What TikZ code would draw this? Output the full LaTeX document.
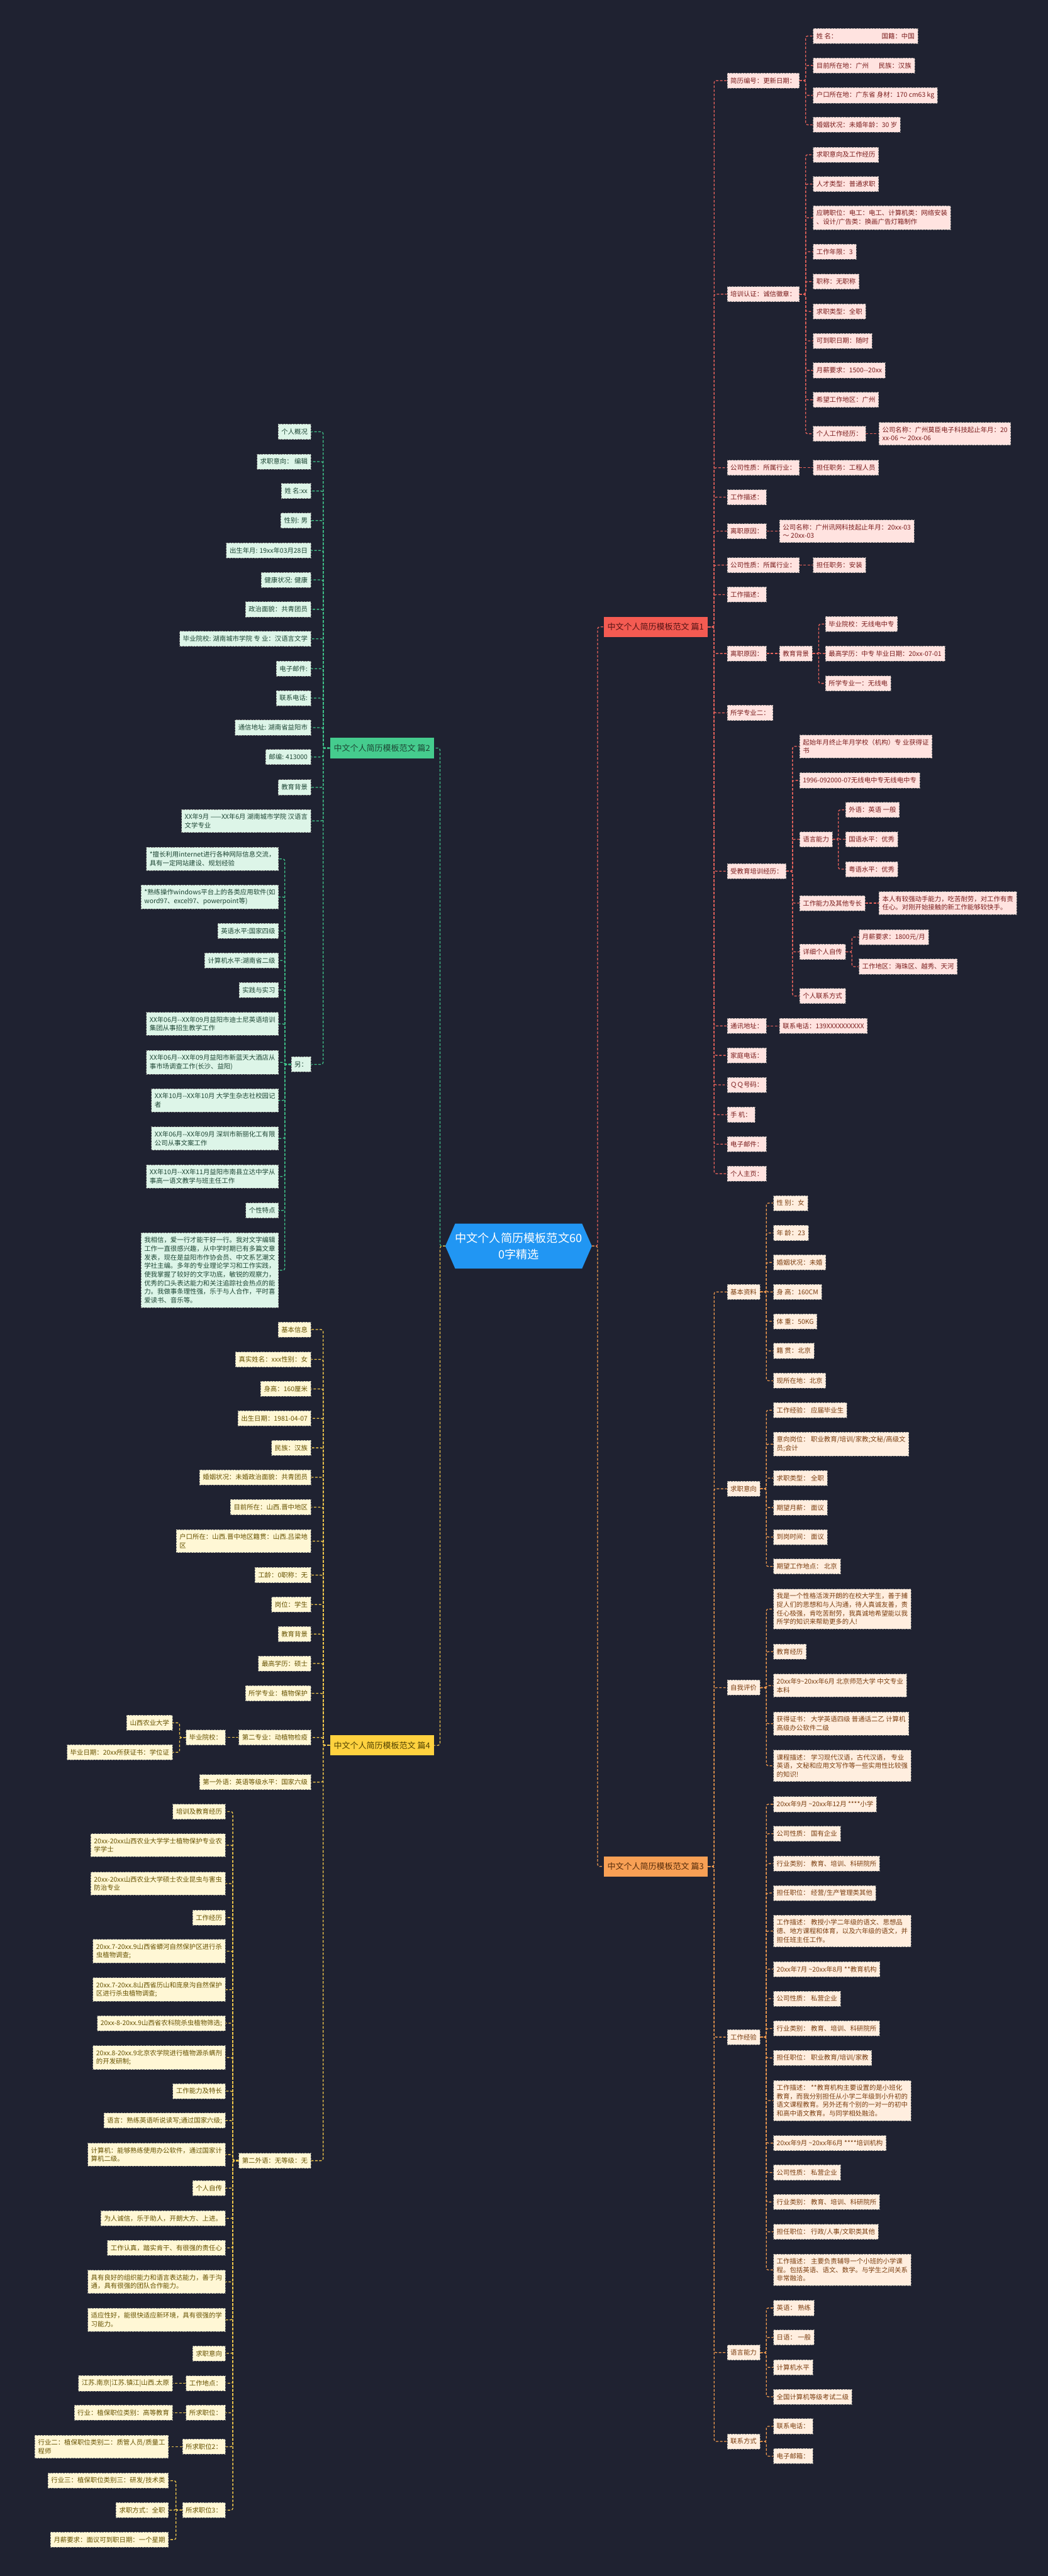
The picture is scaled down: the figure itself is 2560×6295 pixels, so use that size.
\documentclass[tikz,border=0pt]{standalone}
\usepackage{fontspec}
\setmainfont{Noto Sans CJK SC}
\definecolor{bg}{HTML}{1F2231}
\definecolor{cBlue}{HTML}{2196F3}
\definecolor{oneF}{HTML}{FFE3E0}\definecolor{oneT}{HTML}{7A1C1C}\definecolor{oneL}{HTML}{E8635C}\definecolor{oneM}{HTML}{F45B52}
\definecolor{thrF}{HTML}{FFEEDF}\definecolor{thrT}{HTML}{7A3D0E}\definecolor{thrL}{HTML}{F09A4E}\definecolor{thrM}{HTML}{F8A055}
\definecolor{twoF}{HTML}{DDF5E8}\definecolor{twoT}{HTML}{1D4634}\definecolor{twoL}{HTML}{3FC48A}\definecolor{twoM}{HTML}{45CC8E}
\definecolor{fouF}{HTML}{FFF7D5}\definecolor{fouT}{HTML}{665200}\definecolor{fouL}{HTML}{F2C94C}\definecolor{fouM}{HTML}{FFD23F}
\newcommand\dd{-\kern0pt-}
\newcommand\tl{\textasciitilde}
\begin{document}
\begin{tikzpicture}[x=0.25pt,y=-0.25pt,
 leaf/.style={rectangle,draw=black!50,dash pattern=on 1pt off 0.7pt,line width=0.3pt,inner xsep=2pt,inner ysep=2.55pt,minimum height=9.25pt,align=left,font=\fontsize{4pt}{5.25pt}\selectfont},
 R1/.style={leaf,fill=oneF,text=oneT,anchor=west},
 R3/.style={leaf,fill=thrF,text=thrT,anchor=west},
 L2/.style={leaf,fill=twoF,text=twoT,anchor=east},
 L4/.style={leaf,fill=fouF,text=fouT,anchor=east},
 mainn/.style={rectangle,inner xsep=2.3pt,minimum height=12.5pt,font=\fontsize{5pt}{6pt}\selectfont},
 con/.style={dash pattern=on 1.5pt off 1pt,line width=0.5pt,rounded corners=1.2pt},
 c1/.style={con,draw=oneL}, c2/.style={con,draw=twoL}, c3/.style={con,draw=thrL}, c4/.style={con,draw=fouL}]
\fill[bg] (0,0) rectangle (2560,6295);
\useasboundingbox (0,0) rectangle (2560,6295);

% ---------- center ----------
\fill[cBlue] (1088,3045) -- (1112,2990) -- (1422,2990) -- (1446,3045) -- (1422,3100) -- (1112,3100) -- cycle;
\node[text=white,align=center,font=\fontsize{7pt}{10pt}\selectfont] (ctr) at (1267,3045) {中文个人简历模板范文60\\0字精选};
\coordinate (ctrL) at (1088,3045);
\coordinate (ctrR) at (1446,3045);

% ---------- main branch nodes ----------
\node[mainn,fill=oneM,text=oneT!70!black,anchor=west] (p1) at (1474,1532) {中文个人简历模板范文 篇1};
\node[mainn,fill=thrM,text=thrT!70!black,anchor=west] (p3) at (1474,4561) {中文个人简历模板范文 篇3};
\node[mainn,fill=twoM,text=twoT,anchor=east] (p2) at (1061,1828) {中文个人简历模板范文 篇2};
\node[mainn,fill=fouM,text=fouT!80!black,anchor=east] (p4) at (1061,4265) {中文个人简历模板范文 篇4};

\draw[c1] (ctrR) -- ++(14,0) |- (p1.west);
\draw[c3] (ctrR) -- ++(14,0) |- (p3.west);
\draw[c2] (ctrL) -- ++(-13,0) |- (p2.east);
\draw[c4] (ctrL) -- ++(-13,0) |- (p4.east);

% ================= 篇1 =================
\node[R1] (a1) at (1776,197) {简历编号：更新日期：};
\node[R1] (a2) at (1776,719) {培训认证：诚信徽章：};
\node[R1] (a3) at (1776,1143) {公司性质：所属行业：};
\node[R1] (a4) at (1776,1215) {工作描述：};
\node[R1] (a5) at (1776,1298) {离职原因：};
\node[R1] (a6) at (1776,1381) {公司性质：所属行业：};
\node[R1] (a7) at (1776,1453) {工作描述：};
\node[R1] (a8) at (1776,1597) {离职原因：};
\node[R1] (a9) at (1776,1742) {所学专业二：};
\node[R1] (a10) at (1776,2129) {受教育培训经历：};
\node[R1] (a11) at (1776,2507) {通讯地址：};
\node[R1] (a12) at (1776,2579) {家庭电话：};
\node[R1] (a13) at (1776,2651) {ＱＱ号码：};
\node[R1] (a14) at (1776,2724) {手 机：};
\node[R1] (a15) at (1776,2796) {电子邮件：};
\node[R1] (a16) at (1776,2868) {个人主页：};
\foreach \c in {a1,a2,a3,a4,a5,a6,a7,a8,a9,a10,a11,a12,a13,a14,a15,a16}
  \draw[c1] (p1.east) -- ++(15,0) |- (\c.west);

\node[R1] (a1x1) at (1986,88) {姓 名：\hspace{27pt}国籍：中国};
\node[R1] (a1x2) at (1986,160) {目前所在地：广州\hspace{6pt}民族：汉族};
\node[R1] (a1x3) at (1986,233) {户口所在地：广东省 身材：170 cm63 kg};
\node[R1] (a1x4) at (1986,305) {婚姻状况：未婚年龄：30 岁};
\foreach \c in {a1x1,a1x2,a1x3,a1x4} \draw[c1] (a1.east) -- ++(15,0) |- (\c.west);

\node[R1] (a2x1) at (1986,378) {求职意向及工作经历};
\node[R1] (a2x2) at (1986,450) {人才类型：普通求职};
\node[R1] (a2x3) at (1986,532) {应聘职位：电工：电工、计算机类：网络安装\\、设计/广告类：换画广告灯箱制作};
\node[R1] (a2x4) at (1986,615) {工作年限：3};
\node[R1] (a2x5) at (1986,688) {职称：无职称};
\node[R1] (a2x6) at (1986,761) {求职类型：全职};
\node[R1] (a2x7) at (1986,833) {可到职日期：随时};
\node[R1] (a2x8) at (1986,905) {月薪要求：1500\dd20xx};
\node[R1] (a2x9) at (1986,977) {希望工作地区：广州};
\node[R1] (a2x10) at (1986,1060) {个人工作经历：};
\foreach \c in {a2x1,a2x2,a2x3,a2x4,a2x5,a2x6,a2x7,a2x8,a2x9,a2x10} \draw[c1] (a2.east) -- ++(15,0) |- (\c.west);
\node[R1] (a2y) at (2147,1060) {公司名称：广州莫臣电子科技起止年月：20\\xx-06 ～ 20xx-06};
\draw[c1] (a2x10.east) -- (a2y.west);

\node[R1] (a3x) at (1986,1143) {担任职务：工程人员};
\draw[c1] (a3.east) -- (a3x.west);
\node[R1] (a5x) at (1904,1298) {公司名称：广州讯网科技起止年月：20xx-03\\ ～ 20xx-03};
\draw[c1] (a5.east) -- (a5x.west);
\node[R1] (a6x) at (1986,1381) {担任职务：安装};
\draw[c1] (a6.east) -- (a6x.west);
\node[R1] (a8x) at (1904,1597) {教育背景};
\draw[c1] (a8.east) -- (a8x.west);
\node[R1] (a8y1) at (2016,1525) {毕业院校：无线电中专};
\node[R1] (a8y2) at (2016,1597) {最高学历：中专 毕业日期：20xx-07-01};
\node[R1] (a8y3) at (2016,1670) {所学专业一：无线电};
\foreach \c in {a8y1,a8y2,a8y3} \draw[c1] (a8x.east) -- ++(15,0) |- (\c.west);

\node[R1] (a10x1) at (1953,1824) {起始年月终止年月学校（机构）专 业获得证\\书};
\node[R1] (a10x2) at (1953,1907) {1996-092000-07无线电中专无线电中专};
\node[R1] (a10x3) at (1953,2051) {语言能力};
\node[R1] (a10x4) at (1953,2207) {工作能力及其他专长};
\node[R1] (a10x5) at (1953,2326) {详细个人自传};
\node[R1] (a10x6) at (1953,2434) {个人联系方式};
\foreach \c in {a10x1,a10x2,a10x3,a10x4,a10x5,a10x6} \draw[c1] (a10.east) -- ++(15,0) |- (\c.west);
\node[R1] (a10y1) at (2065,1979) {外语：英语 一般};
\node[R1] (a10y2) at (2065,2051) {国语水平：优秀};
\node[R1] (a10y3) at (2065,2124) {粤语水平：优秀};
\foreach \c in {a10y1,a10y2,a10y3} \draw[c1] (a10x3.east) -- ++(14,0) |- (\c.west);
\node[R1] (a10z) at (2147,2207) {本人有较强动手能力，吃苦耐劳，对工作有责\\任心。对刚开始接触的新工作能够较快手。};
\draw[c1] (a10x4.east) -- (a10z.west);
\node[R1] (a10w1) at (2098,2290) {月薪要求：1800元/月};
\node[R1] (a10w2) at (2098,2362) {工作地区：海珠区、越秀、天河};
\foreach \c in {a10w1,a10w2} \draw[c1] (a10x5.east) -- ++(15,0) |- (\c.west);
\node[R1] (a11x) at (1904,2507) {联系电话：139XXXXXXXXXX};
\draw[c1] (a11.east) -- (a11x.west);

% ================= 篇3 =================
\node[R3] (b1) at (1776,3157) {基本资料};
\node[R3] (b2) at (1776,3638) {求职意向};
\node[R3] (b3) at (1776,4124) {自我评价};
\node[R3] (b4) at (1776,4978) {工作经验};
\node[R3] (b5) at (1776,5749) {语言能力};
\node[R3] (b6) at (1776,5966) {联系方式};
\foreach \c in {b1,b2,b3,b4,b5,b6} \draw[c3] (p3.east) -- ++(15,0) |- (\c.west);

\node[R3] (b1x1) at (1889,2940) {性 别：女};
\node[R3] (b1x2) at (1889,3013) {年 龄：23};
\node[R3] (b1x3) at (1889,3085) {婚姻状况：未婚};
\node[R3] (b1x4) at (1889,3157) {身 高：160CM};
\node[R3] (b1x5) at (1889,3229) {体 重：50KG};
\node[R3] (b1x6) at (1889,3301) {籍 贯：北京};
\node[R3] (b1x7) at (1889,3374) {现所在地：北京};
\foreach \c in {b1x1,b1x2,b1x3,b1x4,b1x5,b1x6,b1x7} \draw[c3] (b1.east) -- ++(15,0) |- (\c.west);

\node[R3] (b2x1) at (1889,3446) {工作经验： 应届毕业生};
\node[R3] (b2x2) at (1889,3529) {意向岗位： 职业教育/培训/家教;文秘/高级文\\员;会计};
\node[R3] (b2x3) at (1889,3612) {求职类型： 全职};
\node[R3] (b2x4) at (1889,3684) {期望月薪： 面议};
\node[R3] (b2x5) at (1889,3756) {到岗时间： 面议};
\node[R3] (b2x6) at (1889,3828) {期望工作地点： 北京};
\foreach \c in {b2x1,b2x2,b2x3,b2x4,b2x5,b2x6} \draw[c3] (b2.east) -- ++(15,0) |- (\c.west);

\node[R3] (b3x1) at (1889,3932) {我是一个性格活泼开朗的在校大学生，善于捕\\捉人们的思想和与人沟通，待人真诚友善，责\\任心极强，肯吃苦耐劳，我真诚地希望能以我\\所学的知识来帮助更多的人!};
\node[R3] (b3x2) at (1889,4036) {教育经历};
\node[R3] (b3x3) at (1889,4119) {20xx年9\tl20xx年6月 北京师范大学 中文专业\\ 本科};
\node[R3] (b3x4) at (1889,4212) {获得证书： 大学英语四级 普通话二乙 计算机\\高级办公软件二级};
\node[R3] (b3x5) at (1889,4315) {课程描述： 学习现代汉语，古代汉语， 专业\\英语，文秘和应用文写作等一些实用性比较强\\的知识!};
\foreach \c in {b3x1,b3x2,b3x3,b3x4,b3x5} \draw[c3] (b3.east) -- ++(15,0) |- (\c.west);

\node[R3] (b4x1) at (1889,4409) {20xx年9月 \tl20xx年12月 ****小学};
\node[R3] (b4x2) at (1889,4481) {公司性质： 国有企业};
\node[R3] (b4x3) at (1889,4554) {行业类别： 教育、培训、科研院所};
\node[R3] (b4x4) at (1889,4626) {担任职位： 经营/生产管理类其他};
\node[R3] (b4x5) at (1889,4719) {工作描述： 教授小学二年级的语文、思想品\\德、地方课程和体育，以及六年级的语文，并\\担任班主任工作。};
\node[R3] (b4x6) at (1889,4812) {20xx年7月 \tl20xx年8月 **教育机构};
\node[R3] (b4x7) at (1889,4884) {公司性质： 私营企业};
\node[R3] (b4x8) at (1889,4957) {行业类别： 教育、培训、科研院所};
\node[R3] (b4x9) at (1889,5029) {担任职位： 职业教育/培训/家教};
\node[R3] (b4x10) at (1889,5133) {工作描述： **教育机构主要设置的是小班化\\教育，而我分别担任从小学二年级到小升初的\\语文课程教育。另外还有个别的一对一的初中\\和高中语文教育。与同学相处融洽。};
\node[R3] (b4x11) at (1889,5237) {20xx年9月 \tl20xx年6月 ****培训机构};
\node[R3] (b4x12) at (1889,5309) {公司性质： 私营企业};
\node[R3] (b4x13) at (1889,5381) {行业类别： 教育、培训、科研院所};
\node[R3] (b4x14) at (1889,5454) {担任职位： 行政/人事/文职类其他};
\node[R3] (b4x15) at (1889,5547) {工作描述： 主要负责辅导一个小班的小学课\\程。包括英语、语文、数学。与学生之间关系\\非常融洽。};
\foreach \c in {b4x1,b4x2,b4x3,b4x4,b4x5,b4x6,b4x7,b4x8,b4x9,b4x10,b4x11,b4x12,b4x13,b4x14,b4x15} \draw[c3] (b4.east) -- ++(15,0) |- (\c.west);

\node[R3] (b5x1) at (1889,5640) {英语： 熟练};
\node[R3] (b5x2) at (1889,5712) {日语： 一般};
\node[R3] (b5x3) at (1889,5785) {计算机水平};
\node[R3] (b5x4) at (1889,5857) {全国计算机等级考试二级};
\foreach \c in {b5x1,b5x2,b5x3,b5x4} \draw[c3] (b5.east) -- ++(15,0) |- (\c.west);
\node[R3] (b6x1) at (1889,5929) {联系电话：};
\node[R3] (b6x2) at (1889,6002) {电子邮箱：};
\foreach \c in {b6x1,b6x2} \draw[c3] (b6.east) -- ++(15,0) |- (\c.west);

% ================= 篇2 =================
\node[L2] (c1) at (760,1055) {个人概况};
\node[L2] (c2) at (760,1128) {求职意向： 编辑};
\node[L2] (c3) at (760,1200) {姓 名:xx};
\node[L2] (c4) at (760,1272) {性别: 男};
\node[L2] (c5) at (760,1345) {出生年月: 19xx年03月28日};
\node[L2] (c6) at (760,1417) {健康状况: 健康};
\node[L2] (c7) at (760,1489) {政治面貌：共青团员};
\node[L2] (c8) at (760,1561) {毕业院校: 湖南城市学院 专 业：汉语言文学};
\node[L2] (c9) at (760,1634) {电子邮件:};
\node[L2] (c10) at (760,1706) {联系电话:};
\node[L2] (c11) at (760,1778) {通信地址: 湖南省益阳市};
\node[L2] (c12) at (760,1850) {邮编: 413000};
\node[L2] (c13) at (760,1924) {教育背景};
\node[L2] (c14) at (760,2006) {XX年9月 ——XX年6月 湖南城市学院 汉语言\\文学专业};
\node[L2] (c15) at (760,2601) {另：};
\foreach \c in {c1,c2,c3,c4,c5,c6,c7,c8,c9,c10,c11,c12,c13,c14,c15} \draw[c2] (p2.west) -- ++(-16,0) |- (\c.east);

\node[L2] (c15x1) at (681,2099) {*擅长利用internet进行各种网际信息交流，\\具有一定网站建设、规划经验};
\node[L2] (c15x2) at (681,2192) {*熟练操作windows平台上的各类应用软件(如\\word97、excel97、powerpoint等)};
\node[L2] (c15x3) at (681,2275) {英语水平:国家四级};
\node[L2] (c15x4) at (681,2347) {计算机水平:湖南省二级};
\node[L2] (c15x5) at (681,2419) {实践与实习};
\node[L2] (c15x6) at (681,2502) {XX年06月\dd XX年09月益阳市迪士尼英语培训\\集团从事招生教学工作};
\node[L2] (c15x7) at (681,2596) {XX年06月\dd XX年09月益阳市新蓝天大酒店从\\事市场调查工作(长沙、益阳)};
\node[L2] (c15x8) at (681,2689) {XX年10月\dd XX年10月 大学生杂志社校园记\\者};
\node[L2] (c15x9) at (681,2782) {XX年06月\dd XX年09月 深圳市新丽化工有限\\公司从事文案工作};
\node[L2] (c15x10) at (681,2875) {XX年10月\dd XX年11月益阳市南县立达中学从\\事高一语文教学与班主任工作};
\node[L2] (c15x11) at (681,2958) {个性特点};
\node[L2] (c15x12) at (681,3104) {我相信，爱一行才能干好一行。我对文字编辑\\工作一直很感兴趣，从中学时期已有多篇文章\\发表，现在是益阳市作协会员、中文系艺潮文\\学社主编。多年的专业理论学习和工作实践，\\使我掌握了较好的文字功底，敏锐的观察力，\\优秀的口头表达能力和关注追踪社会热点的能\\力。我做事条理性强，乐于与人合作，平时喜\\爱读书、音乐等。};
\foreach \c in {c15x1,c15x2,c15x3,c15x4,c15x5,c15x6,c15x7,c15x8,c15x9,c15x10,c15x11,c15x12} \draw[c2] (c15.west) -- ++(-15,0) |- (\c.east);

% ================= 篇4 =================
\node[L4] (d1) at (760,3249) {基本信息};
\node[L4] (d2) at (760,3322) {真实姓名：xxx性别：女};
\node[L4] (d3) at (760,3394) {身高：160厘米};
\node[L4] (d4) at (760,3466) {出生日期：1981-04-07};
\node[L4] (d5) at (760,3538) {民族：汉族};
\node[L4] (d6) at (760,3610) {婚姻状况：未婚政治面貌：共青团员};
\node[L4] (d7) at (760,3683) {目前所在：山西.晋中地区};
\node[L4] (d8) at (760,3766) {户口所在：山西.晋中地区籍贯：山西.吕梁地\\区};
\node[L4] (d9) at (760,3849) {工龄：0职称：无};
\node[L4] (d10) at (760,3921) {岗位：学生};
\node[L4] (d11) at (760,3993) {教育背景};
\node[L4] (d12) at (760,4065) {最高学历：硕士};
\node[L4] (d13) at (760,4138) {所学专业：植物保护};
\node[L4] (d14) at (760,4246) {第二专业：动植物检疫};
\node[L4] (d15) at (760,4355) {第一外语：英语等级水平：国家六级};
\node[L4] (d16) at (760,5280) {第二外语：无等级：无};
\foreach \c in {d1,d2,d3,d4,d5,d6,d7,d8,d9,d10,d11,d12,d13,d14,d15,d16} \draw[c4] (p4.west) -- ++(-16,0) |- (\c.east);

\node[L4] (d14x) at (551,4246) {毕业院校：};
\draw[c4] (d14.west) -- (d14x.east);
\node[L4] (d14y1) at (422,4210) {山西农业大学};
\node[L4] (d14y2) at (422,4282) {毕业日期：20xx所获证书：学位证};
\foreach \c in {d14y1,d14y2} \draw[c4] (d14x.west) -- ++(-15,0) |- (\c.east);

\node[L4] (e1) at (551,4427) {培训及教育经历};
\node[L4] (e2) at (551,4509) {20xx-20xx山西农业大学学士植物保护专业农\\学学士};
\node[L4] (e3) at (551,4603) {20xx-20xx山西农业大学硕士农业昆虫与害虫\\防治专业};
\node[L4] (e4) at (551,4686) {工作经历};
\node[L4] (e5) at (551,4768) {20xx.7-20xx.9山西省蟒河自然保护区进行杀\\虫植物调查;};
\node[L4] (e6) at (551,4862) {20xx.7-20xx.8山西省历山和庞泉沟自然保护\\区进行杀虫植物调查;};
\node[L4] (e7) at (551,4944) {20xx-8-20xx.9山西省农科院杀虫植物筛选;};
\node[L4] (e8) at (551,5028) {20xx.8-20xx.9北京农学院进行植物源杀螨剂\\的开发研制;};
\node[L4] (e9) at (551,5110) {工作能力及特长};
\node[L4] (e10) at (551,5182) {语言：熟练英语听说读写;通过国家六级;};
\node[L4] (e11) at (551,5265) {计算机：能够熟练使用办公软件，通过国家计\\算机二级。};
\node[L4] (e12) at (551,5347) {个人自传};
\node[L4] (e13) at (551,5421) {为人诚信，乐于助人，开朗大方、上进。};
\node[L4] (e14) at (551,5493) {工作认真，踏实肯干、有很强的责任心};
\node[L4] (e15) at (551,5576) {具有良好的组织能力和语言表达能力，善于沟\\通，具有很强的团队合作能力。};
\node[L4] (e16) at (551,5669) {适应性好，能很快适应新环境，具有很强的学\\习能力。};
\node[L4] (e17) at (551,5751) {求职意向};
\node[L4] (e18) at (551,5824) {工作地点：};
\node[L4] (e19) at (551,5896) {所求职位：};
\node[L4] (e20) at (551,5979) {所求职位2：};
\node[L4] (e21) at (551,6134) {所求职位3：};
\foreach \c in {e1,e2,e3,e4,e5,e6,e7,e8,e9,e10,e11,e12,e13,e14,e15,e16,e17,e18,e19,e20,e21} \draw[c4] (d16.west) -- ++(-14,0) |- (\c.east);

\node[L4] (e18x) at (422,5824) {江苏.南京|江苏.镇江|山西.太原};
\draw[c4] (e18.west) -- (e18x.east);
\node[L4] (e19x) at (422,5896) {行业：植保职位类别：高等教育};
\draw[c4] (e19.west) -- (e19x.east);
\node[L4] (e20x) at (412,5979) {行业二：植保职位类别二：质管人员/质量工\\程师};
\draw[c4] (e20.west) -- (e20x.east);
\node[L4] (e21x1) at (412,6062) {行业三：植保职位类别三：研发/技术类};
\node[L4] (e21x2) at (412,6134) {求职方式：全职};
\node[L4] (e21x3) at (412,6206) {月薪要求：面议可到职日期：一个星期};
\foreach \c in {e21x1,e21x2,e21x3} \draw[c4] (e21.west) -- ++(-15,0) |- (\c.east);
\end{tikzpicture}
\end{document}
